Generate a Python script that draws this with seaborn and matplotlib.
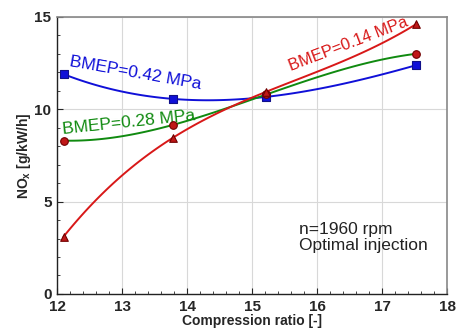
import matplotlib
matplotlib.use("Agg")
import matplotlib.pyplot as plt
from matplotlib.ticker import MultipleLocator
import seaborn as sns
import pandas as pd

sns.set_style("white")
plt.rcParams['font.family'] = ['Liberation Sans', 'DejaVu Sans']

cr = [12.1, 13.78, 15.22, 17.52]
nox_042 = [11.9, 10.56, 10.67, 12.38]
nox_028 = [8.3, 9.15, 10.8, 13.0]
nox_014 = [3.1, 8.45, 10.95, 14.6]
xticks = [12, 13, 14, 15, 16, 17, 18]
yticks = [0, 5, 10, 15]

series = [
    ("BMEP=0.42 MPa", nox_042, "#1010d8", "s", "#1010d8", "#10108a"),
    ("BMEP=0.28 MPa", nox_028, "#108a10", "o", "#c01818", "#700000"),
    ("BMEP=0.14 MPa", nox_014, "#d81818", "^", "#c01818", "#700000"),
]

fig = plt.figure(figsize=(4.6, 3.31), dpi=100)
ax = fig.add_axes([0.124, 0.112, 0.848, 0.837])

for name, vals, lc, mk, mfc, mec in series:
    df = pd.DataFrame({"cr": cr, "nox": vals})
    sns.regplot(data=df, x="cr", y="nox", order=3, ci=None, scatter=False,
                line_kws=dict(color=lc, lw=1.4), ax=ax)
    sns.scatterplot(data=df, x="cr", y="nox", marker=mk, color=mfc,
                    edgecolor=mec, linewidth=0.8, s=30, ax=ax, zorder=5)

ax.set_xlim(12, 18)
ax.set_ylim(0, 15)
ax.set_xticks(xticks)
ax.set_yticks(yticks)
ax.xaxis.set_minor_locator(MultipleLocator(0.2))
ax.yaxis.set_minor_locator(MultipleLocator(1))
ax.tick_params(which='both', direction='in', bottom=True, left=True)
ax.tick_params(which='major', length=4, width=0.8)
ax.tick_params(which='minor', length=2, width=0.6)
ax.tick_params(axis='x', which='major', pad=4.5)
ax.tick_params(axis='y', which='major', pad=4)
ax.set_xticklabels([str(t) for t in xticks], fontsize=11, fontweight='bold')
ax.set_yticklabels([str(t) for t in yticks], fontsize=11, fontweight='bold')
ax.grid(True, which='major', color='#d8d8d8', lw=0.8)

for s in ['top', 'right']:
    ax.spines[s].set_color('#888888')
    ax.spines[s].set_linewidth(1.2)
for s in ['left', 'bottom']:
    ax.spines[s].set_color('#222222')
    ax.spines[s].set_linewidth(1.0)

ax.set_xlabel("Compression ratio [-]", fontsize=10, fontweight='bold', labelpad=0)
ax.set_ylabel(r"NO$_\mathregular{x}$ [g/kW/h]", fontsize=10, fontweight='bold', labelpad=1)

ax.text(12.2, 12.6, "BMEP=0.42 MPa", color="#1010d8", fontsize=12.5,
        rotation=-10, rotation_mode='anchor', ha='left', va='center')
ax.text(12.08, 8.9, "BMEP=0.28 MPa", color="#108a10", fontsize=12.5,
        rotation=6, rotation_mode='anchor', ha='left', va='center')
ax.text(15.57, 12.3, "BMEP=0.14 MPa", color="#d81818", fontsize=11.8,
        rotation=21, rotation_mode='anchor', ha='left', va='center')
ax.text(15.72, 3.05, "n=1960 rpm\nOptimal injection", color="#222222",
        fontsize=12.5, ha='left', va='center', linespacing=1.1)

fig.savefig("out.png", dpi=100)
